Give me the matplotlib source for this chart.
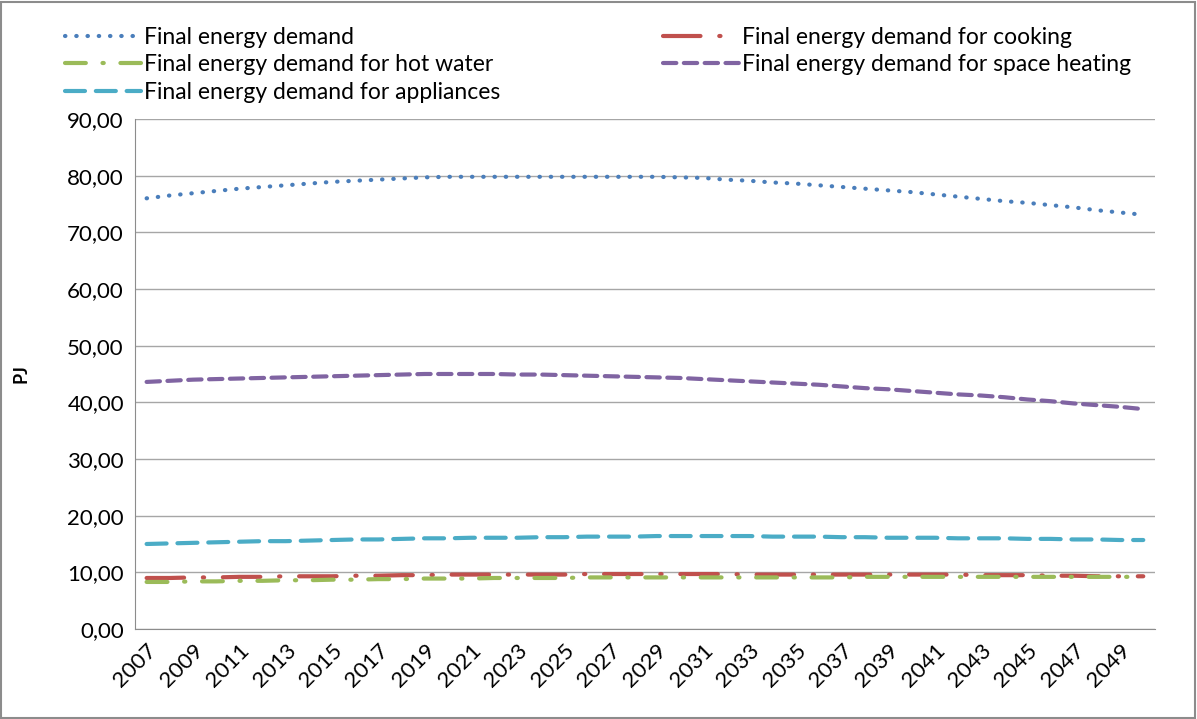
import numpy as np
import matplotlib
matplotlib.use("Agg")
import matplotlib.pyplot as plt
from matplotlib.ticker import FuncFormatter, MultipleLocator

plt.rcParams['font.family'] = ['Lato', 'DejaVu Sans']

# Données (PJ)
annees = list(range(2007, 2051))

total = [76.0, 76.5, 76.9, 77.3, 77.7, 78.0, 78.3, 78.6, 78.9, 79.1,
         79.3, 79.5, 79.7, 79.8, 79.8, 79.8, 79.8, 79.8, 79.8, 79.8,
         79.8, 79.8, 79.8, 79.7, 79.6, 79.3, 79.1, 78.8, 78.6, 78.3,
         78.0, 77.7, 77.4, 77.1, 76.7, 76.3, 75.9, 75.5, 75.2, 74.8,
         74.4, 73.9, 73.5, 73.1]

chauffage = [43.6, 43.8, 44.0, 44.1, 44.2, 44.3, 44.4, 44.5, 44.6, 44.7,
             44.8, 44.9, 45.0, 45.0, 45.0, 45.0, 44.9, 44.9, 44.8, 44.7,
             44.6, 44.5, 44.4, 44.3, 44.1, 43.9, 43.7, 43.5, 43.3, 43.1,
             42.8, 42.5, 42.3, 42.0, 41.7, 41.4, 41.2, 40.9, 40.5, 40.2,
             39.8, 39.5, 39.2, 38.8]

appareils = [15.0, 15.1, 15.2, 15.3, 15.4, 15.5, 15.5, 15.6, 15.7, 15.8,
             15.8, 15.9, 16.0, 16.0, 16.1, 16.1, 16.1, 16.2, 16.2, 16.3,
             16.3, 16.3, 16.4, 16.4, 16.4, 16.4, 16.4, 16.3, 16.3, 16.3,
             16.2, 16.2, 16.1, 16.1, 16.1, 16.0, 16.0, 16.0, 15.9, 15.9,
             15.8, 15.8, 15.7, 15.7]

cuisson = [9.0, 9.0, 9.1, 9.1, 9.2, 9.2, 9.3, 9.3, 9.3, 9.4,
           9.4, 9.5, 9.5, 9.6, 9.6, 9.6, 9.6, 9.6, 9.6, 9.7,
           9.7, 9.7, 9.7, 9.7, 9.7, 9.7, 9.6, 9.6, 9.6, 9.6,
           9.6, 9.6, 9.6, 9.6, 9.6, 9.6, 9.5, 9.5, 9.5, 9.4,
           9.4, 9.3, 9.3, 9.3]

eau_chaude = [8.3, 8.3, 8.4, 8.4, 8.5, 8.5, 8.6, 8.6, 8.7, 8.7,
              8.8, 8.8, 8.9, 8.9, 8.9, 9.0, 9.0, 9.0, 9.0, 9.1,
              9.1, 9.1, 9.1, 9.1, 9.1, 9.1, 9.1, 9.1, 9.1, 9.1,
              9.1, 9.2, 9.2, 9.2, 9.2, 9.2, 9.2, 9.2, 9.2, 9.2,
              9.2, 9.2, 9.2, 9.2]

fig = plt.figure(figsize=(11.97, 7.19), dpi=100)
# cadre gris autour de la figure
fig.patches.append(plt.Rectangle((0.001, 0.001), 0.997, 0.996, transform=fig.transFigure,
                                 fill=False, edgecolor='#8c8c8c', linewidth=1.5))
ax = fig.add_axes([0.1128, 0.1252, 0.852, 0.7093])

x = np.arange(len(annees))
lw = 3.0

l_total, = ax.plot(x, total, color='#4A7EBB', lw=lw, dashes=(0.1, 2.6),
                   dash_capstyle='round', label='Final energy demand')
l_cuis, = ax.plot(x, cuisson, color='#C0504D', lw=lw, dashes=(9, 4.5, 0.3, 4.5),
                  dash_capstyle='round', label='Final energy demand for cooking')
l_eau, = ax.plot(x, eau_chaude, color='#9BBB59', lw=lw, dashes=(5, 4, 0.3, 4),
                 dash_capstyle='round', label='Final energy demand for hot water')
l_chauf, = ax.plot(x, chauffage, color='#8064A2', lw=lw, dashes=(3.2, 1.8),
                   dash_capstyle='round', label='Final energy demand for space heating')
l_app, = ax.plot(x, appareils, color='#4BACC6', lw=lw, dashes=(4.8, 2.6),
                 dash_capstyle='round', label='Final energy demand for appliances')

ax.set_xlim(-0.5, len(annees) - 0.5)
ax.set_ylim(0, 90)
ax.yaxis.set_major_locator(MultipleLocator(10))
ax.yaxis.set_major_formatter(FuncFormatter(lambda v, p: f"{v:.2f}".replace('.', ',')))
ax.grid(axis='y', color='#a6a6a6', lw=1.0)
ax.set_axisbelow(True)

ax.set_xticks(x[::2])
ax.set_xticklabels([str(a) for a in annees[::2]], rotation=45, ha='right',
                   rotation_mode='anchor', fontsize=16)
ax.tick_params(axis='y', labelsize=16, length=0, pad=8)
ax.tick_params(axis='x', length=0, pad=8)

for s in ['top', 'right']:
    ax.spines[s].set_visible(False)
for s in ['left', 'bottom']:
    ax.spines[s].set_color('#8c8c8c')

ax.set_ylabel('PJ', fontsize=13, fontweight='bold', labelpad=27)

# légende en deux blocs, placés comme dans Excel
opts = dict(loc='upper left', frameon=False, fontsize=16.5, handlelength=3.3,
            handletextpad=0.15, labelspacing=0.3, borderpad=0, borderaxespad=0)
gauche = [l_total, l_eau, l_app]
droite = [l_cuis, l_chauf]
fig.legend(handles=gauche, labels=[h.get_label() for h in gauche],
           bbox_to_anchor=(65 / 1197, 0.963), **opts)
fig.legend(handles=droite, labels=[h.get_label() for h in droite],
           bbox_to_anchor=(663 / 1197, 0.963), **opts)

fig.savefig('out.png', dpi=100, facecolor='white')
